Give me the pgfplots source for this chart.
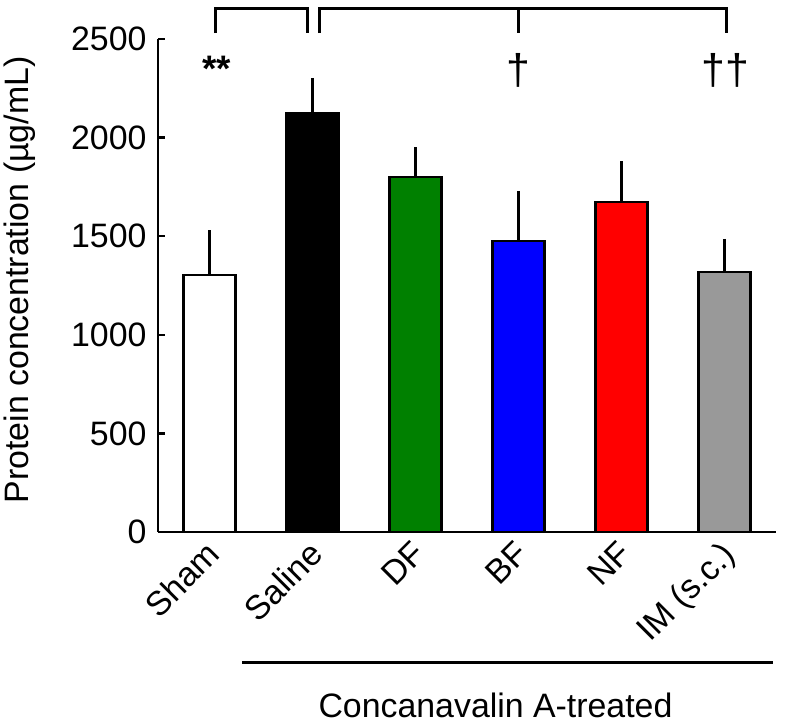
\documentclass[border=0pt]{standalone}
\usepackage{fontspec}
\setmainfont{Liberation Sans}
\usepackage{pgfplots}
\pgfplotsset{compat=1.18}
\definecolor{dfgreen}{RGB}{0,128,0}
\definecolor{imgray}{RGB}{153,153,153}
\newcommand{\bigfnt}{\fontsize{34}{40}\selectfont}
\begin{document}
\begin{tikzpicture}
\useasboundingbox (0,0) rectangle (785bp,725bp);
\begin{axis}[
  at={(158bp,193bp)}, anchor=south west,
  scale only axis, width=618bp, height=493bp,
  xmin=-0.5, xmax=5.5, ymin=0, ymax=2500,
  axis x line=bottom, axis y line=left,
  axis line style={-, line width=2.5bp, black},
  clip=false,
  ytick={0,500,1000,1500,2000,2500},
  tick align=inside, major tick length=7bp,
  ytick style={line width=2.5bp, black},
  xtick={0,1,2,3,4,5},
  xticklabels={Sham,Saline,DF,BF,NF,IM (s.c.)},
  xtick style={draw=none},
  /pgf/number format/1000 sep={},
  /pgf/number format/assume math mode=true,
  tick label style={font=\bigfnt},
  yticklabel style={xshift=-8bp},
  xticklabel style={xshift=-5bp, yshift=-4bp, rotate=45, anchor=north east, inner sep=2bp},
  every axis plot/.append style={ybar, bar width=52bp, bar shift=0pt, draw=black, line width=2.3bp,
    error bars/y dir=plus, error bars/y explicit,
    error bars/error bar style={line width=2.8bp, black},
    error bars/error mark options={line width=3bp, mark size=4bp, black}},
]
\addplot[fill=white] coordinates {(0,1303) +- (0,208)};
\addplot[fill=black] coordinates {(1,2125) +- (0,157)};
\addplot[fill=dfgreen] coordinates {(2,1800) +- (0,132)};
\addplot[fill=blue] coordinates {(3,1476) +- (0,233)};
\addplot[fill=red] coordinates {(4,1673) +- (0,188)};
\addplot[fill=imgray] coordinates {(5,1318) +- (0,148)};
\draw[line width=3bp] (axis cs:0.063,2530) -- (axis cs:0.063,2657) -- (axis cs:0.947,2657) -- (axis cs:0.947,2530);
\draw[line width=3bp] (axis cs:1.07,2530) -- (axis cs:1.07,2657) -- (axis cs:5.02,2657) -- (axis cs:5.02,2530);
\draw[line width=3bp] (axis cs:3,2657) -- (axis cs:3,2530);
\node[font=\fontsize{37}{40}\selectfont\bfseries, anchor=base] at (axis cs:0.07,2285) {**};
\node[font=\fontsize{43}{48}\selectfont, anchor=base] at (axis cs:3,2267) {†};
\node[font=\fontsize{43}{48}\selectfont, anchor=base] at (axis cs:5.01,2267) {††};
\end{axis}
\node[rotate=90, font=\bigfnt] at (19.5bp,445bp) {Protein concentration (µg/mL)};
\draw[line width=3bp] (242bp,62bp) -- (773bp,62bp);
\node[font=\bigfnt, anchor=base] at (495.5bp,8bp) {Concanavalin A-treated};
\end{tikzpicture}
\end{document}
